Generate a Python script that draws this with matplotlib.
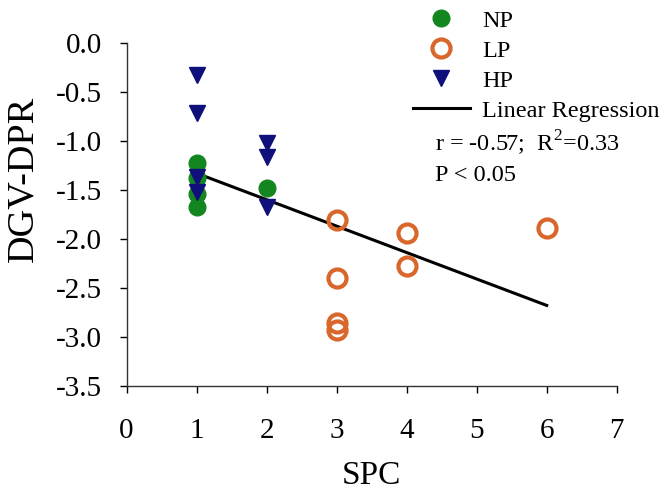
import numpy as np
import matplotlib
matplotlib.use('Agg')
import matplotlib.pyplot as plt
from matplotlib.lines import Line2D

# data
np_x = [1, 1, 1, 1, 2]
np_y = [-1.23, -1.38, -1.54, -1.67, -1.48]
lp_x = [3, 3, 3, 3, 4, 4, 6]
lp_y = [-1.81, -2.40, -2.86, -2.93, -1.94, -2.28, -1.89]
hp_x = [1, 1, 1, 1, 2, 2, 2]
hp_y = [-0.33, -0.72, -1.37, -1.52, -1.02, -1.16, -1.67]
fit_x = [1, 6]
fit_y = [-1.33, -2.68]

xticks = [0, 1, 2, 3, 4, 5, 6, 7]
yticks = [0.0, -0.5, -1.0, -1.5, -2.0, -2.5, -3.0, -3.5]

green = '#13861f'
orange = '#d9662a'
navy = '#10107c'

plt.rcParams['font.family'] = ['Liberation Serif', 'DejaVu Serif']
plt.rcParams['mathtext.fontset'] = 'custom'
plt.rcParams['mathtext.rm'] = 'Liberation Serif'

fig = plt.figure(figsize=(6.66, 4.93), dpi=100)
ax = fig.add_axes([0.190, 0.2176, 0.736, 0.6952])

ax.plot(fit_x, fit_y, color='black', lw=2.2, zorder=2)
ax.plot(np_x, np_y, 'o', color=green, ms=12, mec=green, zorder=3)
ax.plot(lp_x, lp_y, 'o', mfc='none', mec=orange, mew=3, ms=13, zorder=3)
ax.plot(hp_x, hp_y, 'v', color=navy, ms=12, zorder=4)

ax.set_xlim(0, 7)
ax.set_ylim(-3.5, 0)
ax.set_xticks(xticks)
ax.set_yticks(yticks)
ax.set_yticklabels(['%.1f' % v for v in yticks])
ax.tick_params(direction='out', length=5, width=1, labelsize=21, colors='black')
ax.tick_params(axis='y', pad=12.5)
ax.tick_params(axis='x', pad=18)
for s in ['top', 'right']:
    ax.spines[s].set_visible(False)
for s in ['left', 'bottom']:
    ax.spines[s].set_color('#333333')
    ax.spines[s].set_linewidth(1)

ax.set_xlabel('SPC', fontsize=24, labelpad=12)
ax.set_ylabel('DGV-DPR', fontsize=27.5)
ax.yaxis.set_label_coords(-0.175, 0.603)

handles = [
    Line2D([], [], ls='none', marker='o', color=green, ms=12),
    Line2D([], [], ls='none', marker='o', mfc='none', mec=orange, mew=3, ms=13),
    Line2D([], [], ls='none', marker='v', color=navy, ms=12),
    Line2D([], [], color='black', lw=2.2),
]
labels = ['NP', 'LP', 'HP', 'Linear Regression']
fig.legend(handles, labels, loc='upper left', bbox_to_anchor=(0.605, 1.0),
           frameon=False, fontsize=17.5, handlelength=2.35, handletextpad=0.5,
           labelspacing=0.33, borderaxespad=0)

fig.text(0.653, 0.71, r'r = -0.57;  R$^{2}$=0.33', fontsize=17.5,
         va='center', ha='left')
fig.text(0.653, 0.645, 'P < 0.05', fontsize=17.5, va='center', ha='left')

fig.savefig('out.png', dpi=100)
